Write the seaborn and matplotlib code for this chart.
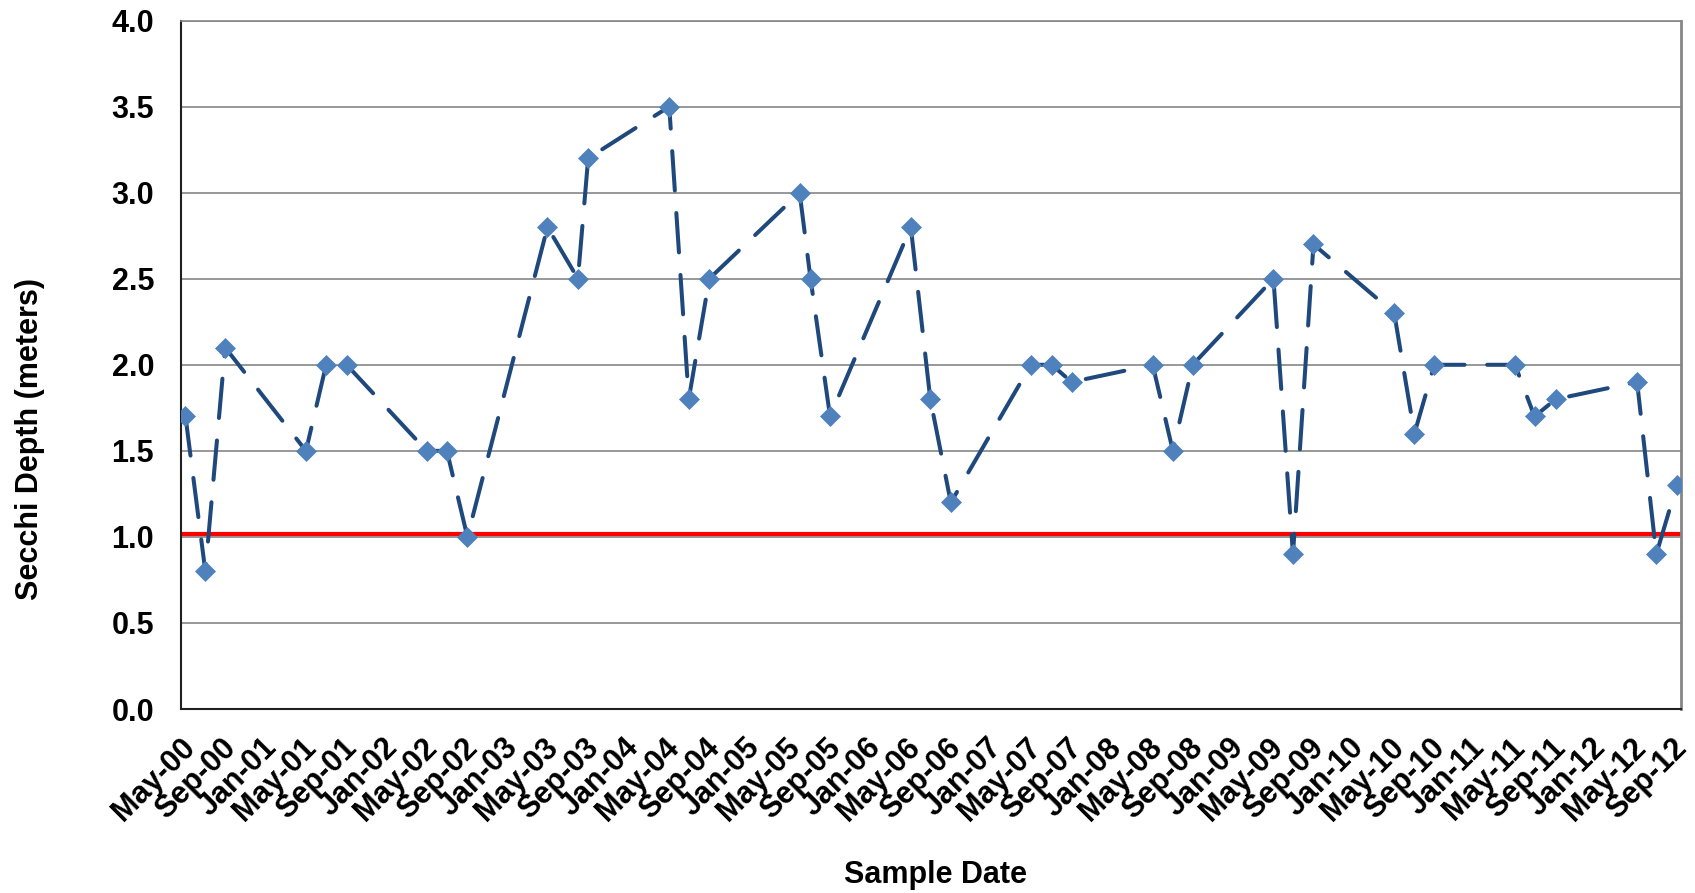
import matplotlib
matplotlib.use("Agg")
import matplotlib.pyplot as plt
import matplotlib.dates as mdates
from matplotlib.ticker import FixedLocator, FormatStrFormatter
import pandas as pd
import seaborn as sns

# Secchi disk readings (meters) by sample date
sample_dates = [
    "2000-05-16", "2000-07-15", "2000-09-13",
    "2001-05-15", "2001-07-15", "2001-09-15",
    "2002-05-15", "2002-07-15", "2002-09-15",
    "2003-05-15", "2003-08-15", "2003-09-15",
    "2004-05-17", "2004-07-15", "2004-09-15",
    "2005-06-15", "2005-07-18", "2005-09-15",
    "2006-05-17", "2006-07-15", "2006-09-15",
    "2007-05-15", "2007-07-17", "2007-09-15",
    "2008-05-17", "2008-07-17", "2008-09-15",
    "2009-05-17", "2009-07-15", "2009-09-15",
    "2010-05-17", "2010-07-17", "2010-09-15",
    "2011-05-17", "2011-07-15", "2011-09-17",
    "2012-05-20", "2012-07-17", "2012-09-17",
]
secchi_depth = [
    1.7, 0.8, 2.1,
    1.5, 2.0, 2.0,
    1.5, 1.5, 1.0,
    2.8, 2.5, 3.2,
    3.5, 1.8, 2.5,
    3.0, 2.5, 1.7,
    2.8, 1.8, 1.2,
    2.0, 2.0, 1.9,
    2.0, 1.5, 2.0,
    2.5, 0.9, 2.7,
    2.3, 1.6, 2.0,
    2.0, 1.7, 1.8,
    1.9, 0.9, 1.3,
]

# Water-clarity threshold line
threshold_depth = 1.015

# Axis range and ticks
x_start, x_end = "2000-05-01", "2012-10-01"
tick_start, tick_end, tick_step = "2000-05-01", "2012-09-01", "4MS"
y_ticks = [0.0, 0.5, 1.0, 1.5, 2.0, 2.5, 3.0, 3.5, 4.0]

df = pd.DataFrame({"date": pd.to_datetime(sample_dates), "depth": secchi_depth})

sns.set_style("white")
plt.rcParams["font.family"] = ["Liberation Sans", "DejaVu Sans"]
plt.rcParams["font.weight"] = "bold"
plt.rcParams["text.color"] = "black"
plt.rcParams["axes.labelcolor"] = "black"

fig = plt.figure(figsize=(16.95, 8.93), dpi=100)
ax = fig.add_axes([0.1065, 0.206, 0.8855, 0.771])

# horizontal grid
for yv in y_ticks[1:]:
    ax.axhline(yv, color="#868686", lw=1.2, zorder=1)

ax.axhline(threshold_depth, color="#FF0000", lw=3.0, zorder=2)

sns.lineplot(
    data=df, x="date", y="depth", ax=ax,
    color="#1F497D", lw=2.9,
    linestyle=(0, (9.8, 5.6)), dash_capstyle="round",
    marker="D", markersize=10.5,
    markerfacecolor="#4F81BD", markeredgecolor="#4F81BD", markeredgewidth=0.5,
    zorder=3,
)

ax.set_xlim(pd.Timestamp(x_start), pd.Timestamp(x_end))
ax.set_ylim(0, 4.0)

ticks = pd.date_range(tick_start, tick_end, freq=tick_step)
ax.xaxis.set_major_locator(FixedLocator(mdates.date2num(ticks)))
ax.xaxis.set_major_formatter(mdates.DateFormatter("%b-%y"))
ax.set_yticks(y_ticks)
ax.yaxis.set_major_formatter(FormatStrFormatter("%.1f"))

ax.tick_params(axis="both", which="major", direction="out", length=7,
               width=1, color="#404040", labelsize=22, labelcolor="black")
ax.tick_params(axis="y", pad=12)
ax.tick_params(axis="x", pad=10)
for lbl in ax.get_xticklabels():
    lbl.set_rotation(45)
    lbl.set_ha("right")
    lbl.set_va("top")
    lbl.set_rotation_mode("anchor")
    lbl.set_fontweight("bold")
for lbl in ax.get_yticklabels():
    lbl.set_fontweight("bold")

for side in ["left", "bottom"]:
    ax.spines[side].set_color("#202020")
    ax.spines[side].set_linewidth(1.5)
ax.spines["right"].set_color("#868686")
ax.spines["right"].set_linewidth(2)
ax.spines["top"].set_color("#868686")
ax.spines["top"].set_linewidth(1.2)

ax.set_xlabel("Sample Date", fontsize=22, fontweight="bold", color="black")
ax.set_ylabel("Secchi Depth (meters)", fontsize=22, fontweight="bold", color="black")
ax.xaxis.label.set_va("baseline")
ax.xaxis.set_label_coords(0.503, -0.252)
ax.yaxis.set_label_coords(-0.0905, 0.392)

fig.savefig("out.png", dpi=100, facecolor="white")
